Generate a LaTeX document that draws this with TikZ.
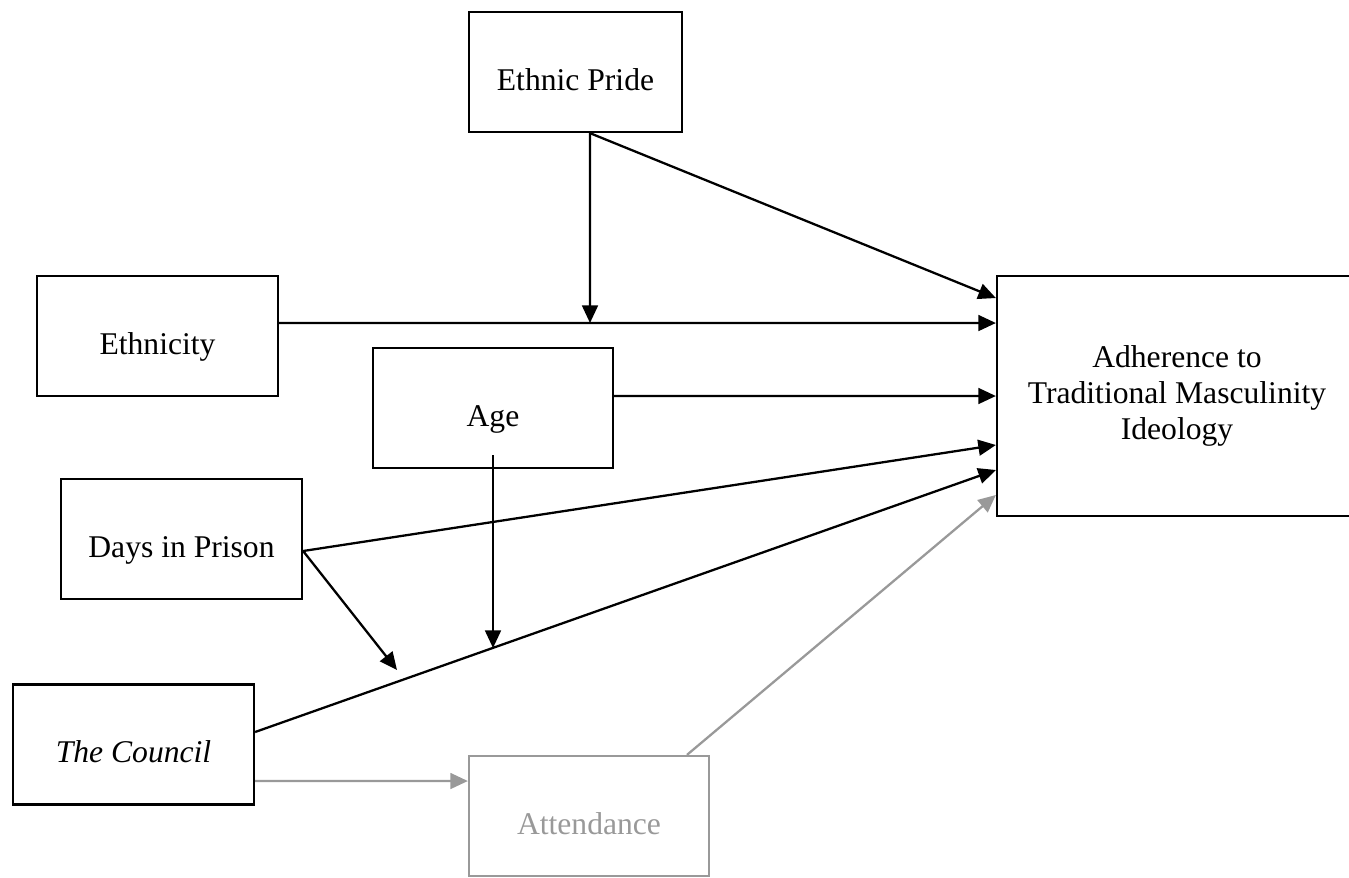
\documentclass[tikz,border=0pt]{standalone}
\usepackage{fontspec}
\setmainfont{Liberation Serif}
\usepackage{tikz}
\usetikzlibrary{arrows.meta}
\tikzset{frame/.style = {draw, line width=1.3pt, minimum width=4.82cm, minimum height=2.4cm,
                         align=center, font=\fontsize{18}{20.5}\selectfont},
         box/.style = {frame, text height=20.5pt, text depth=0pt},
         arr/.style = {line width=1.3pt, -{Triangle[length=10pt, width=9pt]}}}
\definecolor{mgray}{rgb}{0.6, 0.6, 0.6}

\begin{document}
\begin{tikzpicture}[x=0.02cm, y=-0.02cm]
    \useasboundingbox (0, 0) rectangle (1349, 877);

    \node [box, minimum width=4.26cm] (pride) at (575.5, 72) {Ethnic Pride};
    \node [box] (ethn) at (157.5, 336) {Ethnicity};
    \node [box, minimum width=4.8cm] (age) at (493, 408) {Age};
    \node [box] (days) at (181.5, 539) {Days in Prison};
    \node [box] (council) at (133.5, 744.5) {\textit{The Council}};
    \node [box, mgray, minimum width=4.8cm] (att) at (589, 816) {Attendance};
    \node [frame, minimum width=7.2cm, minimum height=4.8cm] (adh) at (1177, 396)
          {Adherence to\\Traditional Masculinity\\Ideology};

    \coordinate (m1) at (590, 323);
    \coordinate (m2) at (493, 648);
    \coordinate (m3) at (397, 670);

    \draw [arr] ([xshift=0.29cm]pride.south) -- ([yshift=1.96cm]adh.west);
    \draw [arr] ([xshift=0.29cm]pride.south) -- (m1);
    \draw [arr] ([yshift=0.26cm]ethn.east) -- ([yshift=1.46cm]adh.west);
    \draw [arr] ([yshift=0.24cm]age.east) -- (adh.west);
    \draw [arr] ([yshift=-0.94cm]age.center) -- (m2);
    \draw [arr] ([yshift=-0.24cm]days.east) -- ([yshift=-0.98cm]adh.west);
    \draw [arr] ([yshift=-0.24cm]days.east) -- (m3);
    \draw [arr] ([yshift=0.25cm]council.east) -- ([yshift=-1.48cm]adh.west);

    \draw [arr, mgray] ([yshift=-0.73cm]council.east) -- ([yshift=0.7cm]att.west);
    \draw [arr, mgray] ([xshift=1.96cm]att.north) -- ([yshift=-1.98cm]adh.west);
  \end{tikzpicture}
\end{document}
